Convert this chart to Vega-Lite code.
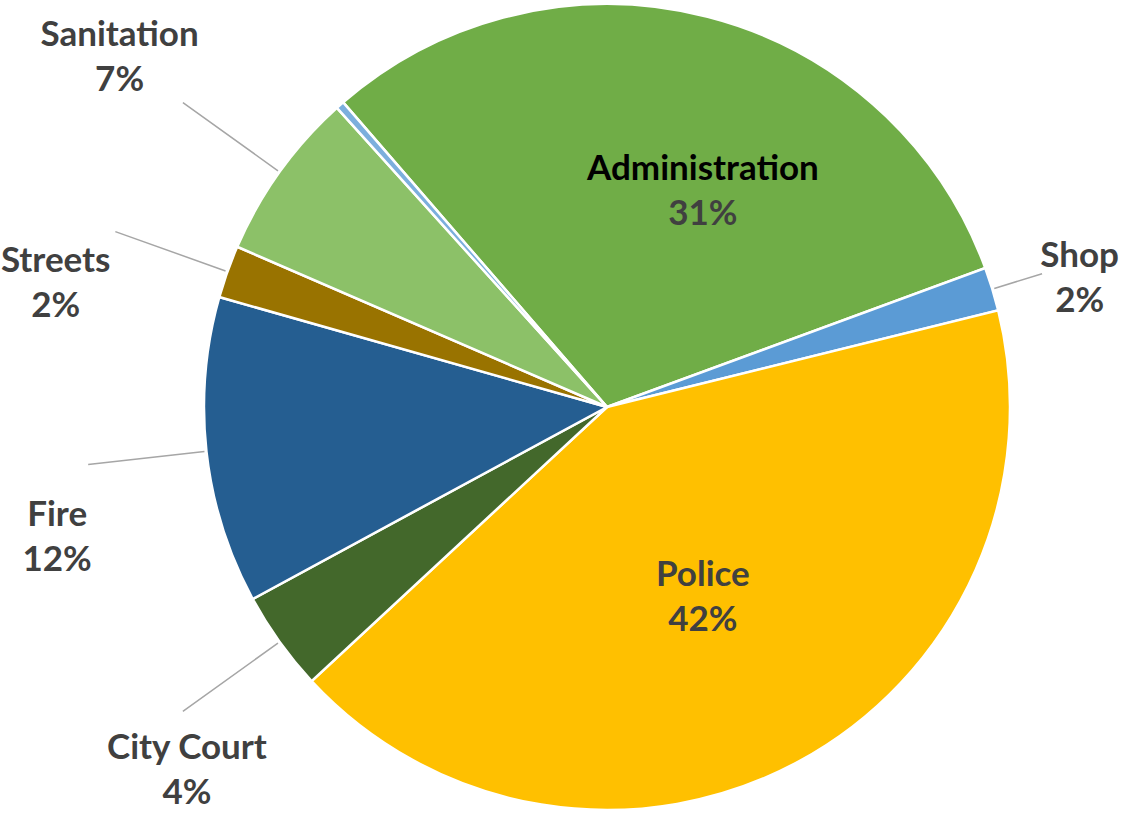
{
  "$schema": "https://vega.github.io/schema/vega-lite/v6.json",
  "width": 1066,
  "height": 814,
  "autosize": {"type": "none"},
  "padding": {"left": 74, "right": 0, "top": 0, "bottom": 5},
  "background": "white",
  "config": {"view": {"stroke": null}, "text": {"font": "Lato", "fontSize": 35, "fontWeight": "bold", "color": "#404040"}},
  "data": {
    "values": [
      {"category": "Administration", "share": 0.3075, "rank": 1},
      {"category": "Shop", "share": 0.0175, "rank": 2},
      {"category": "Police", "share": 0.4194, "rank": 3},
      {"category": "City Court", "share": 0.04, "rank": 4},
      {"category": "Fire", "share": 0.123, "rank": 5},
      {"category": "Streets", "share": 0.0211, "rank": 6},
      {"category": "Sanitation", "share": 0.068, "rank": 7},
      {"category": "Other", "share": 0.0033, "rank": 8}
    ]
  },
  "encoding": {
    "theta": {"field": "share", "type": "quantitative", "stack": true, "scale": {"range": [-0.7138, 5.5694]}},
    "order": {"field": "rank", "type": "quantitative"},
    "detail": {"field": "category", "type": "nominal"}
  },
  "layer": [
    {
      "mark": {"type": "arc", "outerRadius": 403, "stroke": "white", "strokeWidth": 2.5},
      "encoding": {
        "color": {
          "field": "category",
          "type": "nominal",
          "legend": null,
          "scale": {
            "domain": ["Administration", "Shop", "Police", "City Court", "Fire", "Streets", "Sanitation", "Other"],
            "range": ["#70AD47", "#5B9BD5", "#FFC000", "#43682B", "#255E91", "#997300", "#8CC168", "#7CAFDD"]
          }
        }
      }
    },
    {
      "mark": {"type": "arc", "innerRadius": 405, "outerRadius": 455, "padAngle": 1.3, "filled": false, "stroke": "#A6A6A6", "strokeWidth": 1.5},
      "encoding": {
        "strokeOpacity": {"condition": {"test": "datum.category === 'Shop'", "value": 1}, "value": 0}
      }
    },
    {
      "mark": {"type": "arc", "innerRadius": 405, "outerRadius": 522, "padAngle": 1.3, "filled": false, "stroke": "#A6A6A6", "strokeWidth": 1.5},
      "encoding": {
        "strokeOpacity": {"condition": {"test": "indexof(['City Court','Fire','Streets','Sanitation'], datum.category) >= 0", "value": 1}, "value": 0}
      }
    },
    {
      "mark": {"type": "text", "radius": 236, "thetaOffset": 0.166, "dy": -22, "color": "#000000"},
      "encoding": {
        "text": {"condition": {"test": "datum.category === 'Administration'", "field": "category", "type": "nominal"}, "value": ""}
      }
    },
    {
      "mark": {"type": "text", "radius": 236, "thetaOffset": 0.166, "dy": 23},
      "encoding": {
        "text": {"condition": {"test": "datum.category === 'Administration'", "field": "share", "type": "quantitative", "format": ".0%"}, "value": ""}
      }
    },
    {
      "mark": {"type": "text", "radius": 213, "thetaOffset": 0.028, "dy": -22},
      "encoding": {
        "text": {"condition": {"test": "datum.category === 'Police'", "field": "category", "type": "nominal"}, "value": ""}
      }
    },
    {
      "mark": {"type": "text", "radius": 213, "thetaOffset": 0.028, "dy": 23},
      "encoding": {
        "text": {"condition": {"test": "datum.category === 'Police'", "field": "share", "type": "quantitative", "format": ".0%"}, "value": ""}
      }
    },
    {
      "mark": {"type": "text", "radius": 490, "thetaOffset": 0.03, "dy": -22},
      "encoding": {
        "text": {"condition": {"test": "datum.category === 'Shop'", "field": "category", "type": "nominal"}, "value": ""}
      }
    },
    {
      "mark": {"type": "text", "radius": 490, "thetaOffset": 0.03, "dy": 23},
      "encoding": {
        "text": {"condition": {"test": "datum.category === 'Shop'", "field": "share", "type": "quantitative", "format": ".0%"}, "value": ""}
      }
    },
    {
      "mark": {"type": "text", "radius": 600, "dy": -22},
      "encoding": {
        "text": {"condition": {"test": "datum.category === 'Sanitation'", "field": "category", "type": "nominal"}, "value": ""}
      }
    },
    {
      "mark": {"type": "text", "radius": 600, "dy": 23},
      "encoding": {
        "text": {"condition": {"test": "datum.category === 'Sanitation'", "field": "share", "type": "quantitative", "format": ".0%"}, "value": ""}
      }
    },
    {
      "mark": {"type": "text", "radius": 565, "thetaOffset": -0.122, "dy": -22},
      "encoding": {
        "text": {"condition": {"test": "indexof(['Fire','Streets'], datum.category) >= 0", "field": "category", "type": "nominal"}, "value": ""}
      }
    },
    {
      "mark": {"type": "text", "radius": 565, "thetaOffset": -0.122, "dy": 23},
      "encoding": {
        "text": {"condition": {"test": "indexof(['Fire','Streets'], datum.category) >= 0", "field": "share", "type": "quantitative", "format": ".0%"}, "value": ""}
      }
    },
    {
      "mark": {"type": "text", "radius": 555, "thetaOffset": -0.09, "dy": -22},
      "encoding": {
        "text": {"condition": {"test": "datum.category === 'City Court'", "field": "category", "type": "nominal"}, "value": ""}
      }
    },
    {
      "mark": {"type": "text", "radius": 555, "thetaOffset": -0.09, "dy": 23},
      "encoding": {
        "text": {"condition": {"test": "datum.category === 'City Court'", "field": "share", "type": "quantitative", "format": ".0%"}, "value": ""}
      }
    }
  ]
}
